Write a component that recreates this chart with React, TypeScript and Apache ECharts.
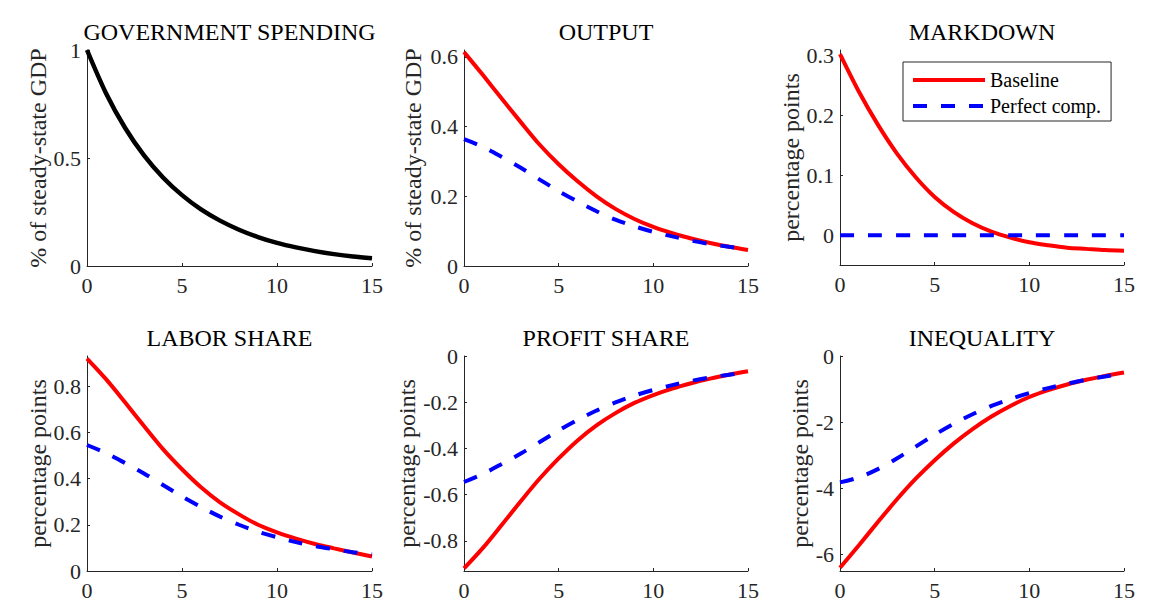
import React, { useEffect, useRef } from "react";
import * as echarts from "echarts";

// ---------- data ----------
const periods = [0, 1, 2, 3, 4, 5, 6, 7, 8, 9, 10, 11, 12, 13, 14, 15];
const xTicks = [0, 5, 10, 15];

const govSpending = [1, 0.8, 0.64, 0.512, 0.41, 0.328, 0.262, 0.21, 0.168, 0.134, 0.107, 0.086, 0.069, 0.055, 0.044, 0.036];

const outputBaseline = [0.614, 0.548, 0.48, 0.413, 0.348, 0.292, 0.243, 0.2, 0.164, 0.135, 0.112, 0.094, 0.079, 0.066, 0.055, 0.046];
const outputPerfect = [0.364, 0.342, 0.313, 0.282, 0.248, 0.215, 0.185, 0.157, 0.133, 0.114, 0.098, 0.085, 0.073, 0.063, 0.055, 0.049];

const markdownBaseline = [0.303, 0.24, 0.185, 0.137, 0.097, 0.064, 0.039, 0.02, 0.006, -0.004, -0.012, -0.017, -0.021, -0.023, -0.025, -0.026];
const markdownPerfect = [0, 0, 0, 0, 0, 0, 0, 0, 0, 0, 0, 0, 0, 0, 0, 0];

const laborBaseline = [0.919, 0.83, 0.73, 0.627, 0.527, 0.44, 0.362, 0.297, 0.245, 0.2, 0.167, 0.14, 0.117, 0.098, 0.08, 0.063];
const laborPerfect = [0.545, 0.51, 0.467, 0.422, 0.372, 0.322, 0.277, 0.235, 0.2, 0.17, 0.146, 0.125, 0.108, 0.094, 0.081, 0.071];

const profitBaseline = [-0.919, -0.83, -0.73, -0.628, -0.53, -0.443, -0.365, -0.3, -0.247, -0.203, -0.169, -0.141, -0.118, -0.098, -0.081, -0.066];
const profitPerfect = [-0.545, -0.51, -0.467, -0.422, -0.372, -0.322, -0.277, -0.236, -0.201, -0.171, -0.147, -0.126, -0.108, -0.093, -0.081, -0.071];

const inequalityBaseline = [-6.4, -5.72, -5.02, -4.34, -3.71, -3.15, -2.65, -2.21, -1.83, -1.51, -1.24, -1.03, -0.86, -0.72, -0.6, -0.5];
const inequalityPerfect = [-3.82, -3.67, -3.42, -3.1, -2.74, -2.38, -2.05, -1.76, -1.51, -1.3, -1.12, -0.97, -0.84, -0.72, -0.62, -0.52];

const yTicksGov = [0, 0.5, 1];
const yTicksOutput = [0, 0.2, 0.4, 0.6];
const yTicksMarkdown = [0, 0.1, 0.2, 0.3];
const yTicksLabor = [0, 0.2, 0.4, 0.6, 0.8];
const yTicksProfit = [-0.8, -0.6, -0.4, -0.2, 0];
const yTicksInequality = [-6, -4, -2, 0];

const titles = ["GOVERNMENT SPENDING", "OUTPUT", "MARKDOWN", "LABOR SHARE", "PROFIT SHARE", "INEQUALITY"];
const yNames = ["% of steady-state GDP", "% of steady-state GDP", "percentage points", "percentage points", "percentage points", "percentage points"];
const legendNames = ["Baseline", "Perfect comp."];

// ---------- style / layout ----------
const FONT = "'Liberation Serif', 'Times New Roman', serif";
const AXIS = "#262626";
const RED = "#ff0000";
const BLUE = "#0000ff";

const panels = [
  { left: 87, top: 50, width: 285, height: 216, titleTop: 20, nameGap: 36, yMin: 0, yMax: 1, yTicks: yTicksGov, base: govSpending, perf: null as number[] | null },
  { left: 464, top: 50, width: 284, height: 216, titleTop: 20, nameGap: 39, yMin: 0, yMax: 0.62, yTicks: yTicksOutput, base: outputBaseline, perf: outputPerfect },
  { left: 840, top: 50, width: 284, height: 215, titleTop: 20, nameGap: 35, yMin: -0.05, yMax: 0.31, yTicks: yTicksMarkdown, base: markdownBaseline, perf: markdownPerfect },
  { left: 87, top: 356, width: 285, height: 215, titleTop: 326, nameGap: 35, yMin: 0, yMax: 0.93, yTicks: yTicksLabor, base: laborBaseline, perf: laborPerfect },
  { left: 464, top: 356, width: 284, height: 215, titleTop: 326, nameGap: 42, yMin: -0.93, yMax: 0, yTicks: yTicksProfit, base: profitBaseline, perf: profitPerfect },
  { left: 840, top: 356, width: 284, height: 215, titleTop: 326, nameGap: 28, yMin: -6.5, yMax: 0, yTicks: yTicksInequality, base: inequalityBaseline, perf: inequalityPerfect },
];

const toPairs = (arr: number[]) => periods.map((t, k) => [t, arr[k]]);

function buildOption() {
  const grid: any[] = [];
  const xAxis: any[] = [];
  const yAxis: any[] = [];
  const series: any[] = [];
  const title: any[] = [];

  panels.forEach((p, i) => {
    grid.push({ left: p.left, top: p.top, width: p.width, height: p.height, containLabel: false });
    title.push({
      text: titles[i],
      left: p.left + p.width / 2,
      top: p.titleTop,
      textAlign: "center",
      padding: 0,
      textStyle: { fontFamily: FONT, fontSize: 24, fontWeight: "normal", color: "#000" },
    });
    xAxis.push({
      type: "value",
      gridIndex: i,
      min: 0,
      max: 15,
      axisLine: { show: true, onZero: false, lineStyle: { color: AXIS, width: 1 } },
      axisTick: { show: true, inside: true, length: 3, customValues: xTicks, lineStyle: { color: AXIS, width: 1 } },
      axisLabel: { customValues: xTicks, fontFamily: FONT, fontSize: 22, color: AXIS, margin: 8 },
      splitLine: { show: false },
    });
    yAxis.push({
      type: "value",
      gridIndex: i,
      min: p.yMin,
      max: p.yMax,
      name: yNames[i],
      nameLocation: "middle",
      nameRotate: 90,
      nameGap: p.nameGap,
      nameTextStyle: { fontFamily: FONT, fontSize: 24, color: AXIS },
      axisLine: { show: true, onZero: false, lineStyle: { color: AXIS, width: 1 } },
      axisTick: { show: true, inside: true, length: 3, customValues: p.yTicks, lineStyle: { color: AXIS, width: 1 } },
      axisLabel: { customValues: p.yTicks, fontFamily: FONT, fontSize: 22, color: AXIS, margin: 6 },
      splitLine: { show: false },
    });
    const common = {
      type: "line",
      xAxisIndex: i,
      yAxisIndex: i,
      symbol: "none",
      smooth: 0.3,
    };
    if (!p.perf) {
      series.push({
        ...common,
        name: "Government spending",
        data: toPairs(p.base),
        lineStyle: { color: "#000", width: 4.5 },
        itemStyle: { color: "#000" },
      });
    } else {
      series.push({
        ...common,
        name: legendNames[0],
        data: toPairs(p.base),
        lineStyle: { color: RED, width: 4, cap: "butt" },
        itemStyle: { color: RED },
      });
      series.push({
        ...common,
        name: legendNames[1],
        data: toPairs(p.perf),
        lineStyle: { color: BLUE, width: 4, type: [14, 14], cap: "butt" },
        itemStyle: { color: BLUE },
      });
    }
  });

  return {
    animation: false,
    backgroundColor: "#ffffff",
    title,
    grid,
    xAxis,
    yAxis,
    series,
    legend: {
      show: true,
      data: legendNames,
      orient: "vertical",
      left: 903,
      top: 62,
      itemWidth: 72,
      itemHeight: 20,
      itemGap: 6,
      padding: [8, 10, 5, 8],
      borderColor: AXIS,
      borderWidth: 1,
      borderRadius: 0,
      backgroundColor: "#ffffff",
      selectedMode: false,
      textStyle: { fontFamily: FONT, fontSize: 20, color: "#000" },
      lineStyle: { width: 4 },
      itemStyle: { opacity: 0 },
    },
  };
}

export default function App() {
  const ref = useRef<HTMLDivElement>(null);
  useEffect(() => {
    if (!ref.current) return;
    const chart = echarts.init(ref.current, undefined, { renderer: "svg" });
    chart.setOption(buildOption() as any);
    return () => chart.dispose();
  }, []);
  return (
    <div
      ref={ref}
      style={{ position: "fixed", left: 0, top: 0, width: 1149, height: 603, background: "#fff" }}
    />
  );
}
